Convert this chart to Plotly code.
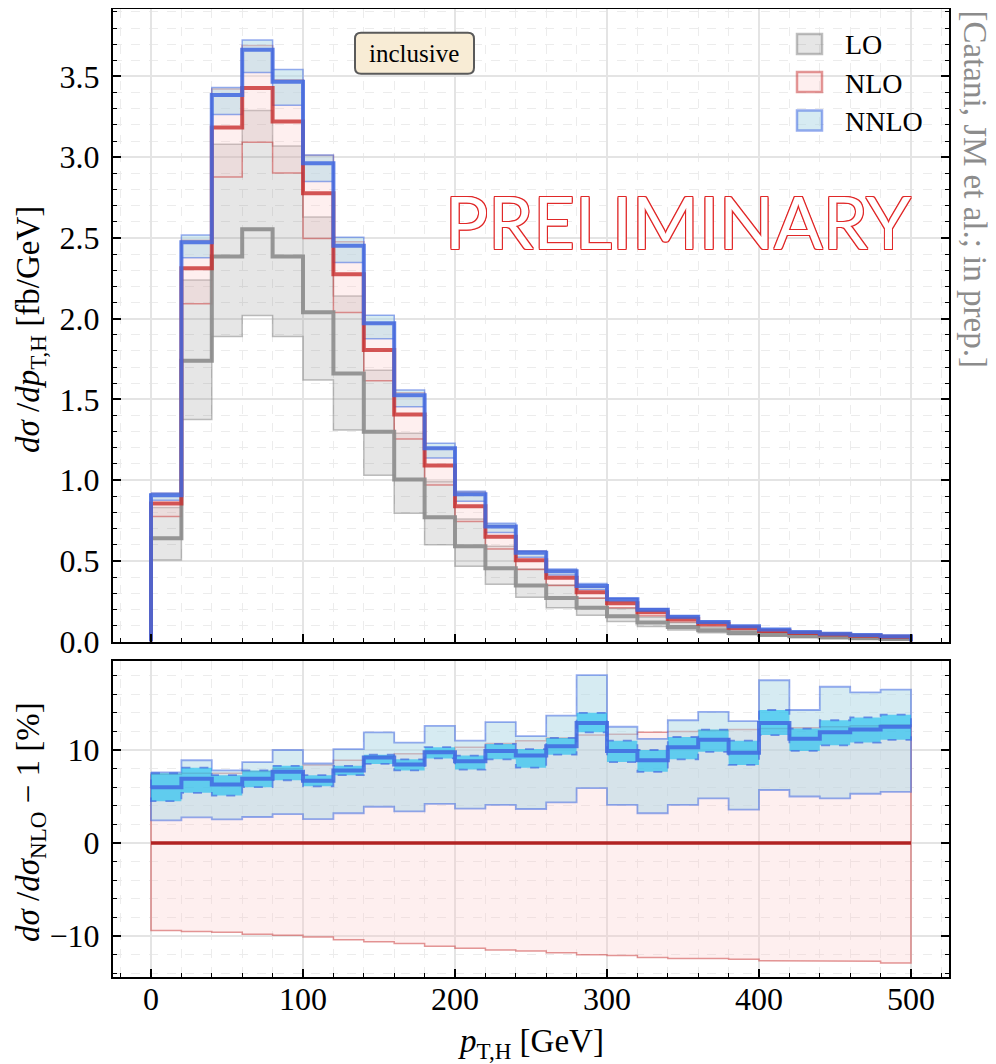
import numpy as np
import plotly.graph_objects as go

# ---------------- data ----------------
edges = [0, 20, 40, 60, 80, 100, 120, 140, 160, 180, 200, 220, 240, 260, 280,
         300, 320, 340, 360, 380, 400, 420, 440, 460, 480, 500]

# top panel: d sigma / d pT [fb/GeV]
lo_c = [0.64, 1.74, 2.385, 2.554, 2.385, 2.04, 1.66, 1.30, 1.004, 0.77, 0.59, 0.455, 0.347,
        0.27, 0.209, 0.157, 0.118, 0.091, 0.070, 0.054, 0.042, 0.033, 0.026, 0.020, 0.016]
lo_dn = [0.505, 1.375, 1.89, 2.02, 1.89, 1.62, 1.31, 1.03, 0.795, 0.60, 0.467, 0.355, 0.275,
         0.21, 0.163, 0.124, 0.094, 0.072, 0.055, 0.043, 0.033, 0.026, 0.020, 0.016, 0.012]
lo_up = [0.83, 2.24, 3.08, 3.29, 3.07, 2.63, 2.14, 1.68, 1.29, 0.99, 0.76, 0.59, 0.45,
         0.35, 0.27, 0.205, 0.153, 0.118, 0.091, 0.070, 0.055, 0.043, 0.034, 0.026, 0.021]
nlo_c = [0.855, 2.313, 3.184, 3.428, 3.222, 2.777, 2.275, 1.806, 1.407, 1.091, 0.839, 0.649, 0.504,
         0.395, 0.305, 0.238, 0.182, 0.140, 0.110, 0.086, 0.066, 0.054, 0.044, 0.036, 0.030]
nlo_dn = [0.775, 2.093, 2.878, 3.092, 2.903, 2.497, 2.038, 1.615, 1.255, 0.970, 0.744, 0.574, 0.446,
          0.348, 0.268, 0.209, 0.160, 0.123, 0.096, 0.075, 0.058, 0.047, 0.038, 0.031, 0.026]
nlo_up = [0.918, 2.486, 3.423, 3.692, 3.480, 3.010, 2.477, 1.974, 1.542, 1.199, 0.925, 0.718, 0.559,
          0.440, 0.340, 0.266, 0.204, 0.157, 0.123, 0.0965, 0.0741, 0.0607, 0.0495, 0.0405, 0.0338]
nnlo_c = [0.906, 2.473, 3.385, 3.665, 3.468, 2.963, 2.452, 1.972, 1.526, 1.197, 0.913, 0.713, 0.551,
          0.436, 0.344, 0.262, 0.198, 0.154, 0.122, 0.0943, 0.0745, 0.0600, 0.0492, 0.0404, 0.0338]
nnlo_dn = [0.876, 2.377, 3.265, 3.524, 3.322, 2.849, 2.348, 1.876, 1.455, 1.137, 0.870, 0.676, 0.522,
           0.412, 0.323, 0.248, 0.188, 0.146, 0.115, 0.0891, 0.0698, 0.0567, 0.0461, 0.0379, 0.0317]
nnlo_up = [0.920, 2.519, 3.432, 3.726, 3.544, 3.014, 2.505, 2.021, 1.559, 1.228, 0.931, 0.733, 0.562,
           0.449, 0.360, 0.268, 0.202, 0.158, 0.126, 0.0973, 0.0776, 0.0617, 0.0514, 0.0418, 0.0350]

# bottom panel: ratio to NLO - 1 [%]
r_nlo_c = [0.0] * 25
r_nlo_dn = [-9.4, -9.5, -9.6, -9.8, -9.9, -10.1, -10.4, -10.6, -10.8, -11.1, -11.3, -11.5, -11.6,
            -11.8, -12.0, -12.1, -12.3, -12.4, -12.4, -12.5, -12.65, -12.65, -12.7, -12.7, -12.9]
r_nlo_up = [7.4, 7.5, 7.5, 7.7, 8.0, 8.4, 8.9, 9.3, 9.6, 9.9, 10.3, 10.7, 11.0,
            11.3, 11.6, 11.7, 11.9, 12.0, 12.1, 12.2, 12.3, 12.4, 12.5, 12.6, 12.7]
r_nnlo_c = [6.0, 6.9, 6.3, 6.9, 7.65, 6.7, 7.8, 9.2, 8.45, 9.75, 8.8, 9.9, 9.4,
            10.4, 12.9, 9.9, 8.9, 10.3, 11.1, 9.7, 12.9, 11.2, 11.9, 12.2, 12.5]
r_nnlo_dn = [2.44, 2.76, 2.54, 2.8, 3.1, 2.58, 3.2, 3.9, 3.4, 4.2, 3.7, 4.1, 3.66,
             4.37, 5.9, 4.1, 3.2, 4.1, 4.8, 3.6, 5.7, 5.0, 4.8, 5.3, 5.5]
r_nnlo_up = [7.6, 8.9, 7.8, 8.7, 10.0, 8.55, 10.1, 11.9, 10.8, 12.6, 11.0, 13.0, 11.5,
             13.7, 18.05, 12.5, 11.2, 13.2, 14.1, 13.1, 17.5, 14.3, 16.8, 16.2, 16.5]
r_stat_dn = [4.5, 5.4, 5.1, 6.0, 6.75, 6.1, 7.3, 8.5, 7.8, 9.1, 7.9, 9.0, 8.1,
             9.5, 11.9, 8.7, 7.65, 9.0, 9.8, 8.4, 11.6, 9.9, 10.5, 10.8, 11.1]
r_stat_up = [7.5, 8.1, 7.3, 7.8, 8.3, 7.3, 8.3, 9.5, 9.0, 10.3, 9.4, 10.65, 10.1,
             11.3, 14.0, 11.0, 10.0, 11.4, 12.2, 11.0, 14.3, 12.3, 13.2, 13.5, 13.8]

x_ticks = [0, 100, 200, 300, 400, 500]
y_ticks_top = [0.0, 0.5, 1.0, 1.5, 2.0, 2.5, 3.0, 3.5]
y_ticks_bot = [-10, 0, 10]
legend_names = ["LO", "NLO", "NNLO"]

# ---------------- helpers ----------------
E = np.array(edges, dtype=float)


def step(vals, drop=False):
    xs = np.repeat(E, 2)[1:-1]
    ys = np.repeat(np.asarray(vals, dtype=float), 2)
    if drop:
        xs = np.concatenate([[E[0]], xs, [E[-1]]])
        ys = np.concatenate([[0.0], ys, [0.0]])
    return xs, ys


def band(lo, hi):
    xu, yu = step(hi)
    xl, yl = step(lo)
    return (np.concatenate([xu, xl[::-1], xu[:1]]),
            np.concatenate([yu, yl[::-1], yu[:1]]))


SERIF = "Liberation Serif"
fig = go.Figure()


def add_band(lo, hi, fill, edge, width, ax, name="", dash="solid"):
    bx, by = band(lo, hi)
    fig.add_trace(go.Scatter(
        x=bx, y=by, mode="lines", fill="toself", fillcolor=fill,
        line=dict(color=edge, width=width, dash=dash),
        xaxis="x" if ax == 1 else "x2", yaxis="y" if ax == 1 else "y2",
        name=name, showlegend=False, hoverinfo="skip"))


def add_line(vals, color, width, ax, drop=False, name=""):
    sx, sy = step(vals, drop)
    fig.add_trace(go.Scatter(
        x=sx, y=sy, mode="lines", line=dict(color=color, width=width),
        xaxis="x" if ax == 1 else "x2", yaxis="y" if ax == 1 else "y2",
        name=name, showlegend=False, hoverinfo="skip"))


LO_FILL, LO_EDGE, LO_LINE = "rgba(128,128,128,0.2)", "rgba(128,128,128,0.5)", "rgba(140,140,140,0.9)"
NLO_FILL, NLO_EDGE, NLO_LINE = "rgba(250,190,190,0.25)", "rgba(200,50,50,0.5)", "rgba(200,45,45,0.8)"
NNLO_FILL, NNLO_EDGE, NNLO_LINE = "rgba(173,216,230,0.5)", "rgba(65,105,225,0.55)", "rgba(65,105,225,0.85)"

# top panel
add_band(lo_dn, lo_up, LO_FILL, LO_EDGE, 1.5, 1, "LO")
add_band(nlo_dn, nlo_up, NLO_FILL, NLO_EDGE, 1.5, 1, "NLO")
add_band(nnlo_dn, nnlo_up, NNLO_FILL, NNLO_EDGE, 1.5, 1, "NNLO")
add_line(lo_c, LO_LINE, 4, 1, drop=True, name="LO")
add_line(nlo_c, NLO_LINE, 4, 1, drop=True, name="NLO")
add_line(nnlo_c, NNLO_LINE, 4, 1, drop=True, name="NNLO")

# bottom panel
add_band(r_nlo_dn, r_nlo_up, NLO_FILL, NLO_EDGE, 1.5, 2, "NLO")
add_band(r_nnlo_dn, r_nnlo_up, NNLO_FILL, NNLO_EDGE, 1.8, 2, "NNLO")
add_band(r_stat_dn, r_stat_up, "rgba(0,185,240,0.55)", "rgba(65,105,225,0.7)", 1.8, 2, "NNLO stat", dash="dash")
add_line(r_nnlo_c, NNLO_LINE, 4, 2, name="NNLO")
add_line(r_nlo_c, "rgb(178,34,34)", 3.5, 2, name="NLO")

# ---------------- layout ----------------
# the page adds an 8px body margin: figure spans page pixels 8..996 x 8..1064
L, R, T, B = 105, 47, 1, 87
W, H = 988, 1056
PW, PH = W - L - R, H - T - B  # 836 x 968


def px(xpage):   # page x -> paper x
    return (xpage - 8 - L) / PW


def py(ypage):   # page y -> paper y
    return (H - B - (ypage - 8)) / PH


tickfont = dict(family=SERIF, size=32, color="black")
minor_style = dict(ticks="inside", ticklen=4, tickwidth=1.2, tickcolor="black",
                   showgrid=True, gridcolor="#ececec", gridwidth=1, griddash="dash")
common_x = dict(range=[-25, 525], tickvals=x_ticks, ticks="inside", ticklen=8, tickwidth=1.8,
                tickcolor="black", showline=True, linecolor="black", linewidth=2, mirror=True,
                showgrid=True, gridcolor="#e4e4e4", gridwidth=2, zeroline=False, automargin=False,
                minor=dict(minor_style, dtick=20, tick0=0), tickfont=tickfont)
common_y = dict(ticks="inside", ticklen=8, tickwidth=1.8, tickcolor="black", showline=True,
                linecolor="black", linewidth=2, mirror="allticks", showgrid=True, gridcolor="#e4e4e4",
                gridwidth=2, zeroline=False, tickfont=tickfont, automargin=False, ticklabelstandoff=5)

D_TOP = [py(641.6), 1.0]
D_BOT = [0.0, py(660.7)]

fig.update_layout(
    width=W, height=H,
    margin=dict(l=L, r=R, t=T, b=B),
    paper_bgcolor="white", plot_bgcolor="white",
    font=dict(family=SERIF, color="black"),
    xaxis=dict(common_x, domain=[0, 1], anchor="y", showticklabels=False, matches="x2"),
    xaxis2=dict(common_x, domain=[0, 1], anchor="y2", ticklabelstandoff=-7),
    yaxis=dict(common_y, domain=D_TOP, anchor="x", range=[0, 3.918], tickvals=y_ticks_top,
               ticktext=["%.1f" % v for v in y_ticks_top],
               minor=dict(minor_style, dtick=0.1, tick0=0)),
    yaxis2=dict(common_y, domain=D_BOT, anchor="x2", range=[-14.4, 19.6], tickvals=y_ticks_bot,
                ticktext=["−10", "0", "10"],
                minor=dict(minor_style, dtick=2, tick0=0)),
    showlegend=False,
)

# axis titles
title_font = dict(family=SERIF, size=33, color="black")
fig.add_annotation(x=px(30), y=py(330), xref="paper", yref="paper", textangle=-90, showarrow=False,
                   text="<i>dσ</i> /<i>dp</i><sub>T,H</sub> [fb/GeV]", font=title_font,
                   xanchor="center", yanchor="middle")
fig.add_annotation(x=px(30), y=py(822), xref="paper", yref="paper", textangle=-90, showarrow=False,
                   text="<i>dσ</i> /<i>dσ</i><sub>NLO</sub> − 1 [%]", font=title_font,
                   xanchor="center", yanchor="middle")
fig.add_annotation(x=px(531), y=py(1043), xref="paper", yref="paper", showarrow=False,
                   text="<i>p</i><sub>T,H</sub> [GeV]", font=title_font,
                   xanchor="center", yanchor="middle")

# legend (drawn as boxes + labels)
leg_fill = [LO_FILL, NLO_FILL, NNLO_FILL]
leg_edge = [LO_EDGE, NLO_EDGE, NNLO_EDGE]
leg_rows = [44, 82, 120.5]
for name, fc, ec, yc in zip(legend_names, leg_fill, leg_edge, leg_rows):
    fig.add_shape(type="rect", xref="paper", yref="paper", x0=px(797), x1=px(822),
                  y0=py(yc + 10), y1=py(yc - 10), fillcolor=fc, line=dict(color=ec, width=2.5))
    fig.add_annotation(x=px(843), y=py(yc + 1), xref="paper", yref="paper", text=name, showarrow=False,
                       xanchor="left", yanchor="middle", font=dict(family=SERIF, size=28, color="black"))

# "inclusive" box with rounded corners (data coordinates of top panel)
x0, x1, y0, y1 = 134.2, 212.5, 3.517, 3.771
rx, ry = 4.0, 0.037
path = (f"M {x0+rx},{y0} L {x1-rx},{y0} Q {x1},{y0} {x1},{y0+ry} L {x1},{y1-ry} "
        f"Q {x1},{y1} {x1-rx},{y1} L {x0+rx},{y1} Q {x0},{y1} {x0},{y1-ry} "
        f"L {x0},{y0+ry} Q {x0},{y0} {x0+rx},{y0} Z")
fig.add_shape(type="path", path=path, xref="x", yref="y", fillcolor="#f8ecd5",
              line=dict(color="#5a5a5a", width=2), layer="above")
fig.add_annotation(x=(x0 + x1) / 2, y=(y0 + y1) / 2, xref="x", yref="y", text="inclusive",
                   showarrow=False, font=dict(family=SERIF, size=25, color="black"))

# PRELIMINARY outlined watermark
red = "#e02828"
shadow = ", ".join(f"{dx}px {dy}px 0 {red}" for dx, dy in
                   [(1, 0), (-1, 0), (0, 1), (0, -1), (1, 1), (-1, -1), (1, -1), (-1, 1)])
fig.add_annotation(x=346.7, y=2.606, xref="x", yref="y", text="PRELIMINARY", showarrow=False,
                   font=dict(family="Lato", size=72, color="white", shadow=shadow))

# side citation
fig.add_annotation(x=px(975), y=py(8), xref="paper", yref="paper", text="[Catani, JM et al.; in prep.]",
                   textangle=90, showarrow=False, xanchor="center", yanchor="top",
                   font=dict(family=SERIF, size=33, color="#8c8c8c"))

fig.write_html("out.html")
